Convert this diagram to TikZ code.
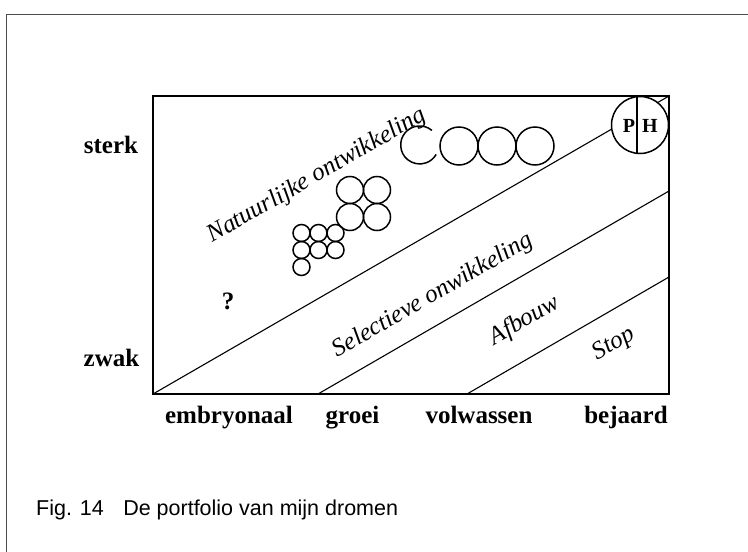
\documentclass[tikz,border=0pt]{standalone}
\usepackage{fontspec}
\setmainfont{Liberation Serif}
\newfontfamily\capfont{Liberation Sans}

\begin{document}
\begin{tikzpicture}[x=1pt, y=-1pt,
    as/.style={font=\fontsize{25}{25}\selectfont\bfseries, inner sep=0pt, anchor=base},
    zone/.style={font=\fontsize{25}{25}\selectfont\itshape, inner sep=0pt, anchor=base, rotate=30},
    grens/.style={line width=1.1pt},
    bol/.style={line width=1.5pt}]
    \useasboundingbox (0,0) rectangle (748,552);

    % --- Kader rond de figuur ---
    \coordinate (k1) at (6,552);
    \coordinate (k2) at (6,14);
    \coordinate (k3) at (748,14);
    \draw[gray!60!black, line width=0.8pt] (k1) -- (k2) -- (k3);

    % --- Matrix (linksonder / rechtsboven) ---
    \coordinate (lo) at (153,394);
    \coordinate (rb) at (669,96);
    \draw[line width=1.2pt] (lo) rectangle (rb);

    % --- Schuine grenzen tussen de zones ---
    \coordinate (g1) at (318,394);
    \coordinate (g1r) at (669,191);
    \coordinate (g2) at (467,394);
    \coordinate (g2r) at (669,277);
    \draw[grens] (lo) -- (rb);
    \draw[grens] (g1) -- (g1r);
    \draw[grens] (g2) -- (g2r);

    % --- Cirkel P|H in de hoek ---
    \draw[bol, fill=white] (640,125) circle (28.5);
    \coordinate (ph1) at (637,96.7);
    \coordinate (ph2) at (637,153.3);
    \draw[line width=1.2pt] (ph1) -- (ph2);
    \node[as, font=\fontsize{20}{20}\selectfont\bfseries, anchor=center] (p) at (629,126) {P};
    \node[as, font=\fontsize{20}{20}\selectfont\bfseries, anchor=center] (h) at (650,126) {H};

    % --- Bellen: rij van vier grote ---
    \draw[bol] (431.9,130.4) arc[start angle=-50, end angle=-330, radius=19];
    \draw[bol] (459,146) circle (19);
    \draw[bol] (497,146) circle (19);
    \draw[bol] (535,146) circle (19);

    % --- Bellen: blok van vier middelgrote ---
    \draw[bol] (350,190) circle (13.5);
    \draw[bol] (377,190) circle (13.5);
    \draw[bol] (350,217) circle (13.5);
    \draw[bol] (377,217) circle (13.5);

    % --- Bellen: kleine ---
    \draw[bol] (301.5,233) circle (8.5);
    \draw[bol] (318.5,233) circle (8.5);
    \draw[bol] (335.5,233) circle (8.5);
    \draw[bol] (301.5,250) circle (8.5);
    \draw[bol] (318.5,250) circle (8.5);
    \draw[bol] (335.5,250) circle (8.5);
    \draw[bol] (301.5,267) circle (8.5);

    % --- Zones ---
    \node[zone] (natuur) at (320,181) {Natuurlijke ontwikkeling};
    \node[zone] (select) at (436,301) {Selectieve onwikkeling};
    \node[zone] (afbouw) at (528,326) {Afbouw};
    \node[zone] (stop) at (617,349) {Stop};
    \node[as] (vraag) at (228,309) {?};

    % --- Assen ---
    \node[as] (sterk) at (111,153) {sterk};
    \node[as] (zwak) at (111.5,366) {zwak};
    \node[as] (embryo) at (229,423) {embryonaal};
    \node[as] (groei) at (352.5,423) {groei};
    \node[as] (volw) at (479,423) {volwassen};
    \node[as] (bejaard) at (626,423) {bejaard};

    % --- Onderschrift ---
    \node[anchor=base west, inner sep=0pt, font=\capfont\fontsize{21.5}{21.5}\selectfont] (fig) at (36,515)
        {Fig. 14\hspace{0.9em}De portfolio van mijn dromen};
\end{tikzpicture}
\end{document}
